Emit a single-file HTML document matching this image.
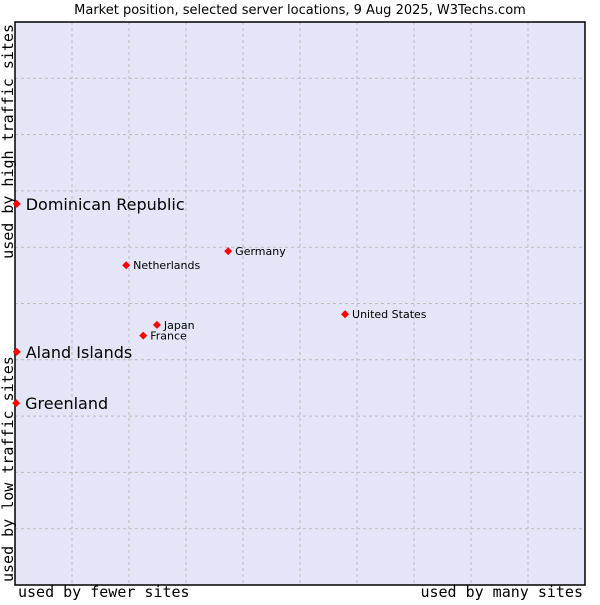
<!DOCTYPE html>
<html><head><meta charset="utf-8"><style>
body{margin:0;background:#fff;}
svg text{font-family:"DejaVu Sans","Liberation Sans",sans-serif;}
.mono{font-family:"DejaVu Sans Mono","Liberation Mono",monospace;font-size:15px;}
</style></head><body>
<svg id="chart" width="600" height="600" xmlns="http://www.w3.org/2000/svg">
<text x="300" y="14" text-anchor="middle" font-size="13" fill="#000">Market position, selected server locations, 9 Aug 2025, W3Techs.com</text>
<rect x="15" y="22" width="570" height="563" fill="#e4e6f8"/>
<g id="grid"></g>
<rect x="15" y="22" width="570" height="563" fill="none" stroke="#000" stroke-width="1.5"/>
<text class="mono" x="18" y="597">used by fewer sites</text>
<text class="mono" x="583" y="597" text-anchor="end">used by many sites</text>
<text class="mono" transform="translate(13,24) rotate(-90)" text-anchor="end">used by high traffic sites</text>
<text class="mono" transform="translate(13,582) rotate(-90)">used by low traffic sites</text>
<g id="points"></g>
</svg>
<script>
const names=["Dominican Republic","Aland Islands","Greenland","Netherlands","Germany","United States","Japan","France"];
const xVals=[0.3,0.3,0.2,19.5,37.4,57.9,24.9,22.5];
const yVals=[67.7,41.4,32.3,56.8,59.3,48.1,46.2,44.3];
const big=[true,true,true,false,false,false,false,false];
const L=15,T=22,W=570,H=563;
const sx=v=>L+v/100*W, sy=v=>T+H-v/100*H;
const NS="http://www.w3.org/2000/svg";
const grid=document.getElementById('grid');
for(let i=1;i<10;i++){
  const a=document.createElementNS(NS,'line');
  
  
  a.setAttribute('x1',sx(i*10));a.setAttribute('x2',sx(i*10));a.setAttribute('y1',T);a.setAttribute('y2',T+H);
  a.setAttribute('stroke','#bbb');a.setAttribute('stroke-dasharray','3,3');grid.appendChild(a);
  const b=document.createElementNS(NS,'line');
  
  
  b.setAttribute('y1',sy(i*10));b.setAttribute('y2',sy(i*10));b.setAttribute('x1',L);b.setAttribute('x2',L+W);
  b.setAttribute('stroke','#bbb');b.setAttribute('stroke-dasharray','3,3');grid.appendChild(b);
}
const pts=document.getElementById('points');
names.forEach((n,i)=>{
  const x=sx(xVals[i]),y=sy(yVals[i]);
  const p=document.createElementNS(NS,'path');
  
  
  p.setAttribute('d',`M${x} ${y-4}L${x+4} ${y}L${x} ${y+4}L${x-4} ${y}Z`);
  p.setAttribute('fill','#f00');pts.appendChild(p);
  const t=document.createElementNS(NS,'text');
  
  
  t.setAttribute('x',x+(big[i]?9:7));t.setAttribute('y',y+(big[i]?6:4));
  t.setAttribute('font-size',big[i]?16:11);t.textContent=n;pts.appendChild(t);
});
</script>
</body></html>
